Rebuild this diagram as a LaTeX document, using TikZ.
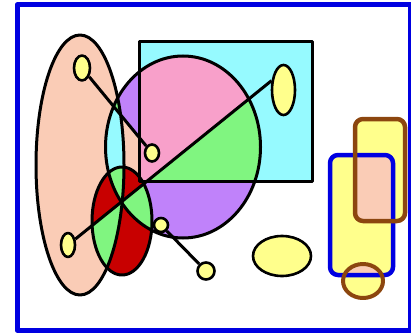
\documentclass[tikz,border=0pt]{standalone}
\usepackage{tikz}
\usetikzlibrary{shapes.geometric}
\definecolor{peach}{RGB}{250,204,182}
\definecolor{skycyan}{RGB}{150,250,255}
\definecolor{rosepink}{RGB}{248,160,202}
\definecolor{lilac}{RGB}{192,130,250}
\definecolor{leafgreen}{RGB}{128,245,128}
\definecolor{darkred}{RGB}{200,0,0}
\definecolor{dotyellow}{RGB}{255,255,140}
\definecolor{frameblue}{RGB}{0,0,225}
\definecolor{rimbrown}{RGB}{140,70,15}

% shapes used more than once
\newcommand{\tallov}{(80,165) ellipse [x radius=44, y radius=130]}
\newcommand{\bigov}{(183,147) ellipse [x radius=77.5, y radius=91]}
\newcommand{\smallov}{(122,221) ellipse [x radius=30, y radius=54]}
\newcommand{\skyrect}{(139,42) rectangle (312,181)}
\newcommand{\belowdiag}{(0,299.3) -- (300,59.7) -- (300,340) -- (0,340) -- cycle}
\newcommand{\belowstick}{(40,17) -- (139,137.2) -- (139,300) -- (40,300) -- cycle}
\newcommand{\abovestick}{(40,17) -- (200,211.3) -- (200,0) -- (40,0) -- cycle}
\newcommand{\bluebox}{(330,155) rectangle (393,275)}
\newcommand{\brownbox}{(355,119) rectangle (405,221)}
\newcommand{\browncirc}{(363,281) ellipse [x radius=20, y radius=17]}

\tikzset{
  outline/.style={line width=3pt},
  dot/.style={ellipse, draw, fill=dotyellow, line width=2.6pt, inner sep=0pt},
}

\begin{document}
\begin{tikzpicture}[x=1pt, y=-1pt, line join=round]
    \useasboundingbox (0,0) rectangle (411,334);
    \draw[frameblue, line width=5pt] (17,5) rectangle (410,330);

    % big oval and tall oval
    \fill[lilac] \bigov;
    \begin{scope}
        \clip \bigov;
        \fill[peach] \belowstick;
    \end{scope}
    \fill[peach] \tallov;
    \begin{scope}
        \clip \tallov;
        \clip \bigov;
        \fill[skycyan] \tallov;
        \fill[leafgreen] \abovestick;
    \end{scope}

    % rectangle split by the long stick
    \fill[skycyan] \skyrect;
    \begin{scope}
        \clip \skyrect;
        \clip \bigov;
        \fill[rosepink] \skyrect;
        \fill[leafgreen] \belowdiag;
    \end{scope}

    % small oval, red and green pieces
    \begin{scope}
        \clip \smallov;
        \fill[leafgreen] \smallov;
        \fill[darkred, even odd rule] \tallov \bigov \belowdiag;
    \end{scope}

    \draw[outline] \tallov;
    \draw[outline] \bigov;
    \draw[outline] \skyrect;
    \draw[outline] \smallov;

    % dots and sticks
    \node[dot, minimum width=16pt, minimum height=25pt] (topdot) at (82,68) {};
    \node[dot, minimum width=14pt, minimum height=17pt] (rectdot) at (152,153) {};
    \node[dot, minimum width=23pt, minimum height=50pt] (bigdot) at (283.5,90) {};
    \node[dot, minimum width=14pt, minimum height=24pt] (lowdot) at (68,245) {};
    \node[dot, minimum width=14pt, minimum height=14pt] (ovaldot) at (161,225) {};
    \node[dot, minimum width=17pt, minimum height=17pt] (footdot) at (206,271) {};
    \node[dot, minimum width=58pt, minimum height=40pt] (flatdot) at (282,256) {};
    \draw[outline] (topdot) -- (rectdot);
    \draw[outline] (bigdot.142) -- (lowdot);
    \draw[outline] (ovaldot) -- (footdot);

    % right group
    \fill[dotyellow, rounded corners=8pt] \bluebox;
    \fill[dotyellow, rounded corners=8pt] \brownbox;
    \fill[dotyellow] \browncirc;
    \begin{scope}
        \clip[rounded corners=8pt] \bluebox;
        \fill[peach, rounded corners=8pt] \brownbox;
        \fill[peach] \browncirc;
    \end{scope}
    \draw[frameblue, line width=4.5pt, rounded corners=8pt] \bluebox;
    \draw[rimbrown, line width=4.5pt, rounded corners=8pt] \brownbox;
    \draw[rimbrown, line width=4pt] \browncirc;
\end{tikzpicture}
\end{document}
